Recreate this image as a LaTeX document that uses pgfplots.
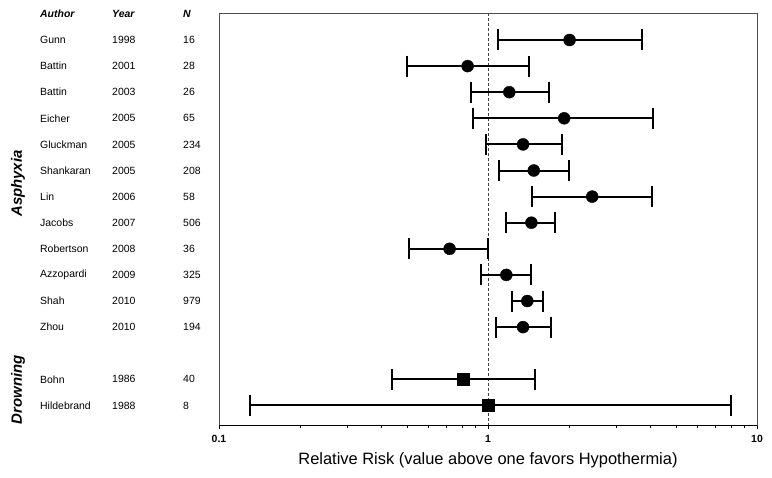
\documentclass[border=0pt]{standalone}
\usepackage{fontspec}
\setmainfont{Liberation Sans}
\usepackage{pgfplots}
\pgfplotsset{compat=1.18}
\usepackage{pgfplotstable}

% point estimates
\pgfplotstableread{
row est
1  2.01
2  0.84
3  1.20
4  1.92
5  1.35
6  1.48
7  2.44
8  1.45
9  0.72
10 1.17
11 1.40
12 1.35
}\asphyxia
\pgfplotstableread{
row est
14 0.81
15 1.00
}\drowning
% confidence intervals (lower / upper ends, one segment per study)
\pgfplotstableread{
x y
1.09 1
3.73 1
nan nan
0.50 2
1.42 2
nan nan
0.865 3
1.69 3
nan nan
0.88 4
4.12 4
nan nan
0.98 5
1.88 5
nan nan
1.10 6
2.00 6
nan nan
1.46 7
4.06 7
nan nan
1.17 8
1.77 8
nan nan
0.51 9
1.00 9
nan nan
0.94 10
1.44 10
nan nan
1.23 11
1.60 11
nan nan
1.07 12
1.71 12
nan nan
0.44 14
1.50 14
nan nan
0.13 15
8.0 15
}\ci

\newcommand\studyrow[4]{%
  \node[anchor=west,inner sep=0pt,font=\fontsize{10.5}{12}\selectfont] at ([xshift=-179bp]axis cs:0.1,#1) {#2};
  \node[anchor=west,inner sep=0pt,font=\fontsize{10.5}{12}\selectfont] at ([xshift=-107bp]axis cs:0.1,#1) {#3};
  \node[anchor=west,inner sep=0pt,font=\fontsize{10.5}{12}\selectfont] at ([xshift=-36bp]axis cs:0.1,#1) {#4};
}

\begin{document}
\begin{tikzpicture}
\begin{axis}[
  scale only axis, width=538bp, height=412bp,
  xmode=log, xmin=0.1, xmax=10,
  y dir=reverse, ymin=-0.034, ymax=15.75,
  clip=false,
  axis line style={black!70, line width=0.6pt},
  xtick={0.1,1,10}, xticklabels={0.1,1,10},
  minor xtick={0.2,0.3,0.4,0.5,0.6,0.7,0.8,0.9,2,3,4,5,6,7,8,9},
  xtick pos=lower, tick align=outside,
  major tick length=4bp, minor tick length=3bp,
  tick style={black, line width=0.6pt},
  ytick=\empty,
  xticklabel style={font=\bfseries\fontsize{10.5}{12}\selectfont, yshift=-3bp},
  xlabel={Relative Risk (value above one favors Hypothermia)},
  xlabel style={font=\fontsize{16.5}{18}\selectfont, yshift=-3bp},
]
\coordinate (BL) at (axis description cs:0,0);
\draw[black, line width=0.9pt] (axis description cs:0,0) -- (axis description cs:1,0);
\addplot[black!75, line width=0.5pt, dash pattern=on 3bp off 2bp] coordinates {(1,-0.034) (1,15.75)};
\addplot[black, line width=2bp, mark=|, mark size=10.5bp, mark options={solid, line width=2bp}, unbounded coords=jump] table[x=x, y=y] {\ci};
\addplot[only marks, mark=*, mark size=6bp, black] table[x=est, y=row] {\asphyxia};
\addplot[only marks, mark=square*, mark size=6bp, black] table[x=est, y=row] {\drowning};

\node[anchor=west,inner sep=0pt,font=\bfseries\itshape\fontsize{10.5}{12}\selectfont] at ([xshift=-179bp]axis cs:0.1,0) {Author};
\node[anchor=west,inner sep=0pt,font=\bfseries\itshape\fontsize{10.5}{12}\selectfont] at ([xshift=-107bp]axis cs:0.1,0) {Year};
\node[anchor=west,inner sep=0pt,font=\bfseries\itshape\fontsize{10.5}{12}\selectfont] at ([xshift=-36bp]axis cs:0.1,0) {N};
\studyrow{1}{Gunn}{1998}{16}
\studyrow{2}{Battin}{2001}{28}
\studyrow{3}{Battin}{2003}{26}
\studyrow{4}{Eicher}{2005}{65}
\studyrow{5}{Gluckman}{2005}{234}
\studyrow{6}{Shankaran}{2005}{208}
\studyrow{7}{Lin}{2006}{58}
\studyrow{8}{Jacobs}{2007}{506}
\studyrow{9}{Robertson}{2008}{36}
\studyrow{10}{Azzopardi}{2009}{325}
\studyrow{11}{Shah}{2010}{979}
\studyrow{12}{Zhou}{2010}{194}
\studyrow{14}{Bohn}{1986}{40}
\studyrow{15}{Hildebrand}{1988}{8}
\node[rotate=90,inner sep=0pt,font=\bfseries\itshape\fontsize{15}{17}\selectfont] at ([xshift=-201bp]axis cs:0.1,6.5) {Asphyxia};
\node[rotate=90,inner sep=0pt,font=\bfseries\itshape\fontsize{15}{17}\selectfont] at ([xshift=-201bp]axis cs:0.1,14.4) {Drowning};
\end{axis}
\pgfresetboundingbox
\path ([shift={(-219bp,-53bp)}]BL) rectangle ([shift={(553bp,425bp)}]BL);
\end{tikzpicture}
\end{document}
